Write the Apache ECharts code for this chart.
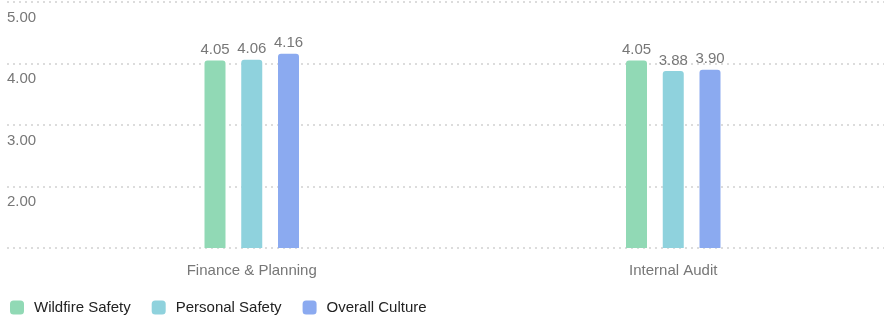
<!DOCTYPE html>
<html>
<head>
<meta charset="utf-8">
<script src="https://cdn.jsdelivr.net/npm/echarts@6/dist/echarts.min.js"></script>
<style>
  html, body { margin: 0; padding: 0; background: #fff; }
  #chart { width: 884px; height: 324px; }
</style>
</head>
<body>
<div id="chart"></div>
<script>
// Department scores by culture dimension
const categories = ['Finance & Planning', 'Internal Audit'];
const seriesNames = ['Wildfire Safety', 'Personal Safety', 'Overall Culture'];
const wildfireSafety = [4.05, 4.05];
const personalSafety = [4.06, 3.88];
const overallCulture = [4.16, 3.90];
const yTicks = [1, 2, 3, 4, 5];

const colors = ['#91d9b5', '#8fd2dd', '#8baaf0'];
const values = [wildfireSafety, personalSafety, overallCulture];

const chart = echarts.init(document.getElementById('chart'), null, { renderer: 'canvas' });

const gridTop = 2, gridBottom = 76;

chart.setOption({
  animation: false,
  color: colors,
  textStyle: { fontFamily: 'Liberation Sans, Arial, sans-serif' },
  legend: {
    left: 5,
    top: 295,
    itemWidth: 14,
    itemHeight: 14,
    itemGap: 21,
    icon: 'roundRect',
    data: seriesNames,
    textStyle: { fontSize: 15, color: '#222', padding: [0, 0, 0, 5] }
  },
  grid: [
    // full-width grid carrying the value axis and its dotted guide lines
    { left: 7, right: 0, top: gridTop, bottom: gridBottom },
    // bar grid
    { left: 41, right: 0, top: gridTop, bottom: gridBottom }
  ],
  xAxis: [
    { type: 'category', gridIndex: 0, data: categories, show: false },
    {
      type: 'category', gridIndex: 1, data: categories,
      axisLine: { show: false },
      axisTick: { show: false },
      axisLabel: { fontSize: 15, color: '#777', margin: 15 }
    }
  ],
  yAxis: [
    {
      type: 'value', gridIndex: 0,
      min: yTicks[0], max: yTicks[yTicks.length - 1], interval: 1,
      axisLine: { show: false },
      axisTick: { show: false },
      splitLine: { lineStyle: { color: '#dcdcdc', type: [2, 4], width: 2 } },
      axisLabel: {
        inside: true,
        margin: 0,
        showMinLabel: false,
        verticalAlign: 'top',
        padding: [8, 0, 0, 0],
        fontSize: 15,
        color: '#777',
        formatter: v => v.toFixed(2)
      }
    },
    {
      type: 'value', gridIndex: 1,
      min: yTicks[0], max: yTicks[yTicks.length - 1], interval: 1,
      show: false,
      splitLine: { show: false }
    }
  ],
  series: seriesNames.map((name, i) => ({
    name,
    type: 'bar',
    xAxisIndex: 1,
    yAxisIndex: 1,
    data: values[i],
    barWidth: 21,
    barGap: '75%',
    itemStyle: { color: colors[i], borderRadius: [3, 3, 0, 0] },
    label: {
      show: true,
      position: 'top',
      distance: 3,
      fontSize: 15,
      color: '#777',
      formatter: p => p.value.toFixed(2)
    }
  }))
});
</script>
</body>
</html>
